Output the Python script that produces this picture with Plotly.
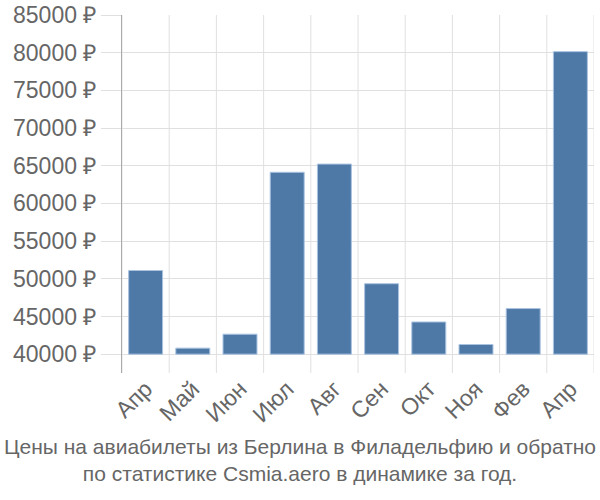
import plotly.graph_objects as go

months = ["Апр", "Май", "Июн", "Июл", "Авг", "Сен", "Окт", "Ноя", "Фев", "Апр"]
prices = [51100, 40800, 42650, 64130, 65220, 49350, 44270, 41280, 46050, 80140]
y_ticks = [40000, 45000, 50000, 55000, 60000, 65000, 70000, 75000, 80000, 85000]
base_value = 40000
title_lines = ["Цены на авиабилеты из Берлина в Филадельфию и обратно",
               "по статистике Csmia.aero в динамике за год."]

positions = list(range(len(months)))

fig = go.Figure(go.Bar(
    x=positions,
    y=[p - base_value for p in prices],
    base=base_value,
    marker=dict(color="rgb(78,121,167)", line=dict(color="rgb(170,195,225)", width=1)),
    width=0.72,
    hoverinfo="skip",
))

font_family = "Liberation Sans, Arial, sans-serif"

fig.update_layout(
    width=600, height=500,
    margin=dict(l=122, r=6, t=15, b=127, autoexpand=False),
    plot_bgcolor="white", paper_bgcolor="white",
    showlegend=False,
    font=dict(family=font_family, color="#666666"),
    xaxis=dict(
        range=[-0.5, len(months) - 0.5],
        tickmode="array", tickvals=positions, ticktext=months,
        tickangle=-45, tickfont=dict(size=23, color="#666666"),
        showgrid=False, zeroline=False, showline=False, ticks="",
        automargin=False, ticklabelstandoff=-3,
    ),
    yaxis=dict(
        range=[37500, 85000],
        tickmode="array", tickvals=y_ticks,
        ticktext=[f"{v} ₽" for v in y_ticks],
        tickfont=dict(size=23, color="#666666"),
        showgrid=True, gridcolor="#e0e0e0", gridwidth=1,
        ticks="outside", ticklen=20, tickcolor="#e0e0e0", tickwidth=1,
        showline=True, linecolor="#aaaaaa", linewidth=1,
        zeroline=False, automargin=False,
    ),
    annotations=[dict(
        text="<br>".join(title_lines),
        xref="paper", yref="paper", x=0.5, y=0, yanchor="top", xanchor="center",
        xshift=-58, yshift=-60,
        showarrow=False,
        font=dict(family=font_family, size=21, color="#666666"),
        align="center",
    )],
)

# vertical gridlines at category boundaries
for i in range(len(months) + 1):
    fig.add_shape(type="line", xref="x", yref="paper",
                  x0=i - 0.5, x1=i - 0.5, y0=0, y1=1,
                  line=dict(color="#e0e0e0", width=1), layer="below")

fig.write_html("out.html")
